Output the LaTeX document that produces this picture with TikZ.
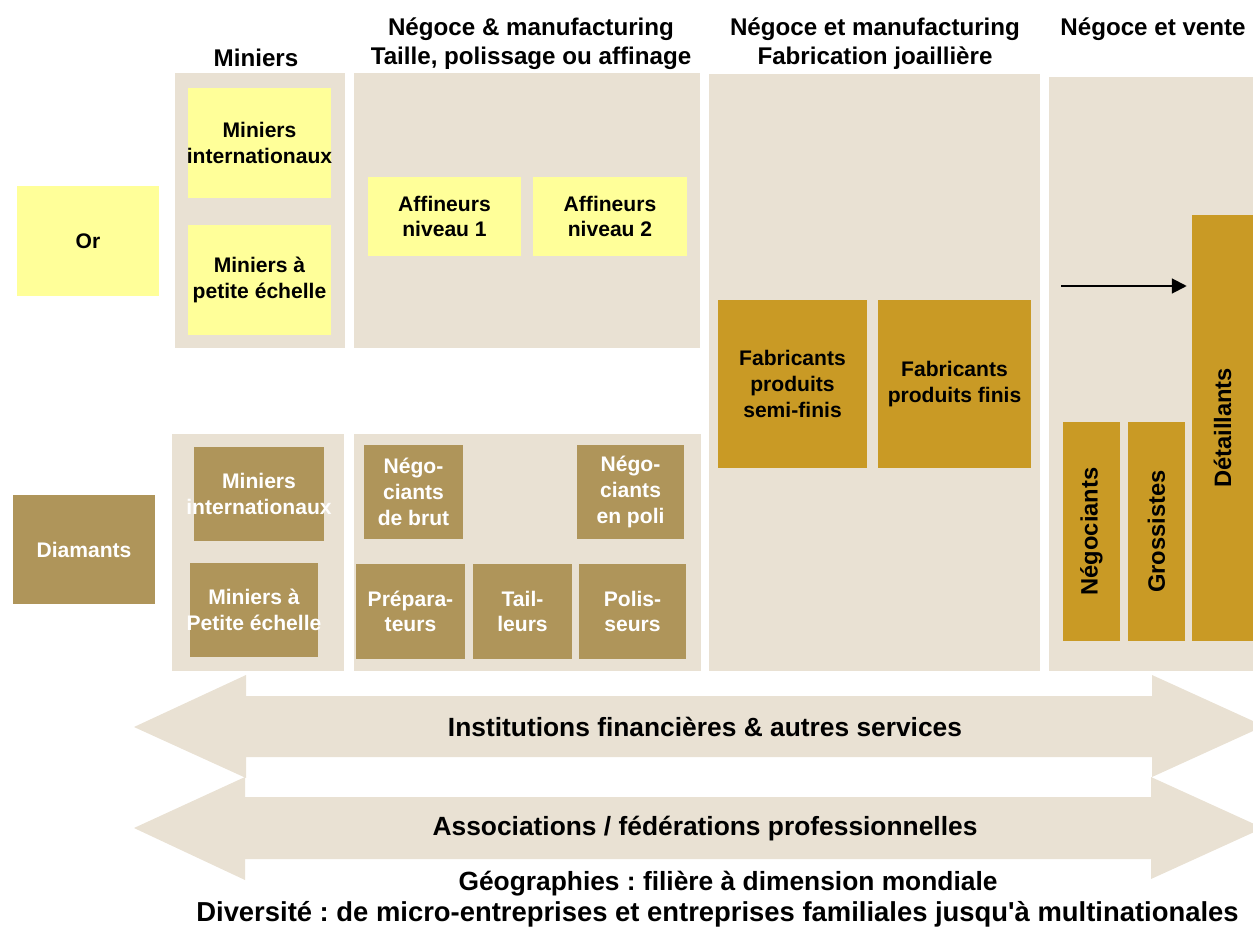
\documentclass[tikz,border=0pt]{standalone}
\usepackage{fontspec}
\setmainfont{Liberation Sans}
\usetikzlibrary{arrows.meta}
\frenchspacing

\definecolor{beige}{HTML}{E9E1D3}
\definecolor{jaune}{HTML}{FFFF99}
\definecolor{brun}{HTML}{AF955A}
\definecolor{ocre}{HTML}{C99A25}

\newcommand\boxfont{\fontsize{12}{14.6}\selectfont\bfseries}
\newcommand\hdfont{\fontsize{13.75}{16.4}\selectfont\bfseries}
\newcommand\arfont{\fontsize{15}{16}\selectfont\bfseries}
% \blk[style]{name}{x1}{y1}{x2}{y2}{text}
\newcommand\blk[7][]{\node[#1,minimum width={(#5-#3)*0.02cm},minimum height={(#6-#4)*0.02cm}] (#2) at ({(#3+#5)/2},{(#4+#6)/2}) {#7};}
% same, text running upwards
\newcommand\vblk[7][]{\node[#1,rotate=90,font=\fontsize{13.5}{16}\selectfont\bfseries,minimum width={(#6-#4)*0.02cm},minimum height={(#5-#3)*0.02cm}] (#2) at ({(#3+#5)/2},{(#4+#6)/2}) {#7};}
% a line wider than its box
\newcommand\wide[1]{\makebox[0pt]{#1}}

\begin{document}
\begin{tikzpicture}
    [x=0.02cm,y=-0.02cm,
    pnl/.style={fill=beige,inner sep=0pt},
    bx/.style={inner sep=0pt,align=center,font=\boxfont},
    au/.style={bx,fill=jaune},
    dia/.style={bx,fill=brun,text=white},
    fab/.style={bx,fill=ocre},
    hd/.style={align=center,font=\hdfont},
    ar/.style={align=center,font=\arfont}]
    \useasboundingbox (0,0) rectangle (1253,929);
    \clip (0,0) rectangle (1253,929);

    % column headers
    \node[hd] (hmin) at (256,58) {Miniers};
    \node[hd] (htai) at (531,43.5) {N\'egoce \& manufacturing\\Taille, polissage ou affinage};
    \node[hd] (hfab) at (875,43.5) {N\'egoce et manufacturing\\Fabrication joailli\`ere};
    \node[hd] (hven) at (1153,29) {N\'egoce et vente};

    % background panels
    \blk[pnl]{pminor}{175}{73}{345}{348}{}
    \blk[pnl]{ptaior}{354}{73}{700}{348}{}
    \blk[pnl]{pmindi}{172}{434}{344}{671}{}
    \blk[pnl]{ptaidi}{354}{434}{701}{671}{}
    \blk[pnl]{pfab}{709}{74}{1040}{671}{}
    \blk[pnl]{pven}{1049}{77}{1270}{671}{}

    % or
    \blk[au]{or}{17}{186}{159}{296}{Or}
    \blk[au]{mint}{188}{88}{331}{198}{Miniers\\\wide{internationaux}}
    \blk[au]{mpet}{188}{225}{331}{335}{Miniers \`a\\petite \'echelle}
    \blk[au]{aff1}{368}{177}{521}{256}{Affineurs\\niveau 1}
    \blk[au]{aff2}{533}{177}{687}{256}{Affineurs\\niveau 2}

    % diamants
    \blk[dia]{diam}{13}{495}{155}{604}{Diamants}
    \blk[dia]{dmint}{194}{447}{324}{541}{Miniers\\\wide{internationaux}}
    \blk[dia]{dmpet}{190}{563}{318}{657}{Miniers \`a\\\wide{Petite \'echelle}}
    \blk[dia]{nbrut}{364}{445}{463}{539}{N\'ego-\\ciants\\de brut}
    \blk[dia]{npoli}{577}{445}{684}{539}{N\'ego-\\ciants\\en poli}
    \blk[dia]{prep}{356}{564}{465}{659}{Pr\'epara-\\teurs}
    \blk[dia]{tail}{473}{564}{572}{659}{Tail-\\leurs}
    \blk[dia]{pol}{579}{564}{686}{659}{Polis-\\seurs}

    % joaillerie et vente
    \blk[fab]{fsemi}{718}{300}{867}{468}{Fabricants\\produits\\semi-finis}
    \blk[fab]{ffin}{878}{300}{1031}{468}{Fabricants\\produits finis}
    \vblk[fab]{neg}{1063}{422}{1120}{641}{N\'egociants}
    \vblk[fab]{gros}{1128}{422}{1185}{641}{Grossistes}
    \vblk[fab]{det}{1192}{215}{1253}{641}{D\'etaillants}

    \coordinate (s) at (1061,286);
    \draw[line width=1.1pt,-{Triangle[length=8.5pt,width=8.5pt]},shorten >=2.8pt] (s) -- (s -| det.north);

    % cross-cutting services
    \fill[beige] (134,727) -- (246,675) -- (246,696) -- (1152,696) -- (1152,675) -- (1264,726)
      -- (1152,777) -- (1152,757) -- (246,757) -- (246,778) -- cycle;
    \fill[beige] (134,828) -- (245,777) -- (245,797) -- (1151,797) -- (1151,777) -- (1263,828)
      -- (1151,879) -- (1151,859) -- (245,859) -- (245,880) -- cycle;
    \node[ar] (inst) at (705,727) {Institutions financi\`eres \& autres services};
    \node[ar] (asso) at (705,829) {Associations / f\'ed\'erations professionnelles};

    \node[ar] (geo) at (728,884) {G\'eographies : fili\`ere \`a dimension mondiale};
    \node[ar,font=\fontsize{15.6}{16}\selectfont\bfseries] (div) at (717.5,914)
      {Diversit\'e : de micro-entreprises et entreprises familiales jusqu\textquotesingle\`a multinationales};
\end{tikzpicture}
\end{document}
